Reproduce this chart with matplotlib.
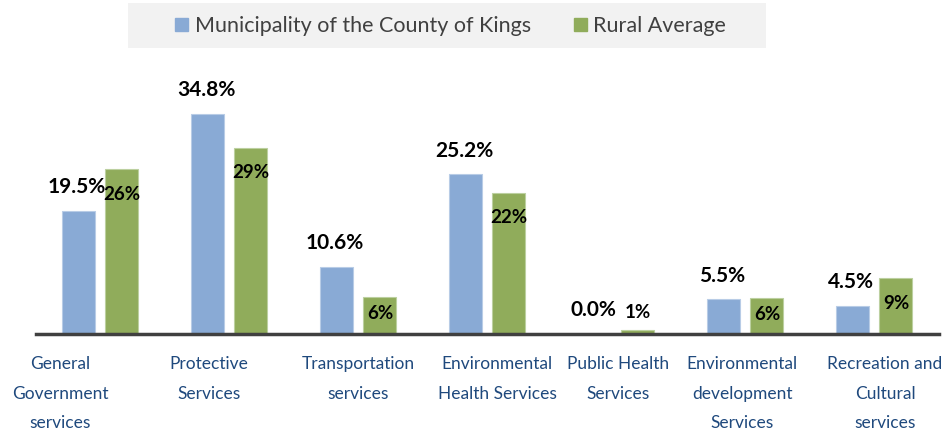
import numpy as np
import matplotlib.pyplot as plt
from matplotlib.patches import Rectangle, Patch

plt.rcParams['font.family'] = ['Lato', 'DejaVu Sans']

# data
categories = ["General\nGovernment\nservices", "Protective\nServices",
              "Transportation\nservices", "Environmental\nHealth Services",
              "Public Health\nServices", "Environmental\ndevelopment\nServices",
              "Recreation and\nCultural\nservices"]
kings = [19.5, 34.8, 10.6, 25.2, 0.0, 5.5, 4.5]
kings_labels = ["19.5%", "34.8%", "10.6%", "25.2%", "0.0%", "5.5%", "4.5%"]
rural = [26.0, 29.4, 5.8, 22.3, 0.6, 5.7, 8.8]
rural_labels = ["26%", "29%", "6%", "22%", "1%", "6%", "9%"]

blue = '#89AAD5'
green = '#90AC5B'

fig = plt.figure(figsize=(9.46, 4.36), dpi=100)
ax = fig.add_axes([35.5 / 946, 102 / 436, 903 / 946, (334 - 60) / 436])

x = np.arange(len(categories))
w = 33 / 129
ax.bar(x - 21.5 / 129, kings, w, color=blue, edgecolor='#B8CCE6', linewidth=0.8)
ax.bar(x + 21.5 / 129, rural, w, color=green, edgecolor='#BCD0A0', linewidth=0.8)

ax.set_xlim(-0.5, len(categories) - 0.5)
ax.set_ylim(0, (334 - 60) / 6.33)

# value labels
for i, v in enumerate(kings):
    ax.annotate(kings_labels[i], (x[i] - 23 / 129, v), xytext=(0, 17),
                textcoords='offset points', ha='center', va='center',
                fontsize=15, fontweight='bold', color='black')
for i, v in enumerate(rural):
    if v > 2:
        yl = max(v - 25 / 6.33, v / 2 + 0.3)
        ax.text(x[i] + 22 / 129, yl, rural_labels[i], ha='center', va='center',
                fontsize=13.5, fontweight='bold', color='black')
    else:
        ax.annotate(rural_labels[i], (x[i] + 21.5 / 129, v), xytext=(0, 13),
                    textcoords='offset points', ha='center', va='center',
                    fontsize=13.5, fontweight='bold', color='black')

for s in ['top', 'right', 'left']:
    ax.spines[s].set_visible(False)
ax.spines['bottom'].set_color('#404040')
ax.spines['bottom'].set_linewidth(2.5)
ax.set_yticks([])
ax.set_xticks([])

# category labels (shifted as in the original)
label_dx = [-40, -20, 0, 10, 2, -3, 11]
for i, lab in enumerate(categories):
    xp = (35.5 + 64.5 + 129 * i + label_dx[i]) / 946
    fig.text(xp, 1 - 356 / 436, lab, ha='center', va='top', fontsize=12.5,
             color='#1F497D', linespacing=2.05)

# legend
fig.patches.append(Rectangle((128 / 946, 1 - 48 / 436), 638 / 946, 45 / 436,
                             transform=fig.transFigure, facecolor='#F2F2F2',
                             edgecolor='none', zorder=0))
handles = [Patch(color=blue), Patch(color=green)]
fig.legend(handles, ["Municipality of the County of Kings", "Rural Average"],
           loc='center left', bbox_to_anchor=(156 / 946, 1 - 26 / 436), ncol=2,
           frameon=False, fontsize=15.5, handlelength=0.6, handleheight=0.6,
           handletextpad=0.3, columnspacing=2.0, labelcolor='#404040')

fig.savefig('out.png', dpi=100)
